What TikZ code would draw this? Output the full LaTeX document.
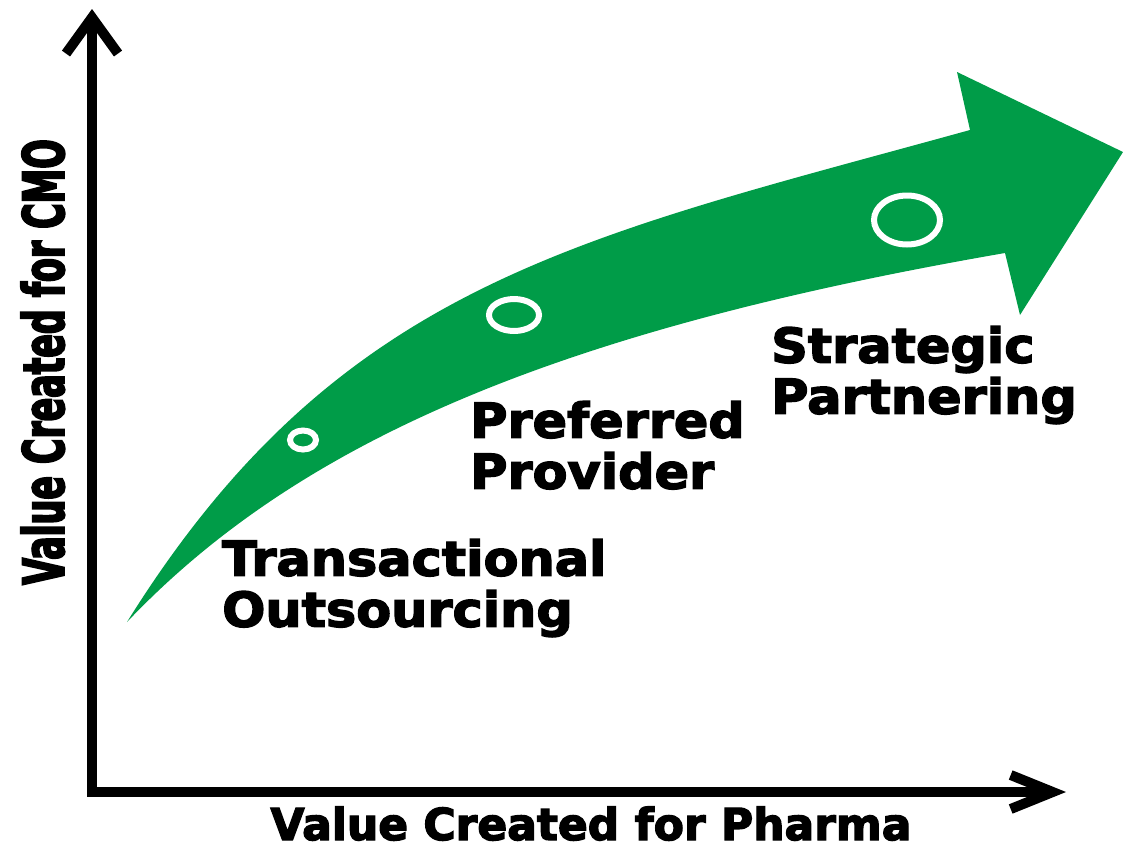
\documentclass[tikz,border=0pt]{standalone}
\usepackage{fontspec}
\usetikzlibrary{arrows.meta}

\newfontfamily\stagefont[FakeStretch=1.06,FakeBold=3]{DejaVu Sans Bold}
\newfontfamily\cmofont[FakeStretch=0.61,FakeBold=3]{DejaVu Sans Bold}
\newfontfamily\pharmafont[FakeBold=3]{DejaVu Sans Bold}
\definecolor{growth}{RGB}{0,156,72}

\tikzset{
  axis/.style={line width=10pt, line join=miter},
  stage/.style={anchor=north west, inner sep=0pt, align=left,
    font=\stagefont\fontsize{48}{51}\selectfont},
  ring/.style={draw=white, line width=6pt},
}

\begin{document}
\begin{tikzpicture}[x=1pt,y=-1pt]
\useasboundingbox (0,0) rectangle (1123,849);

% axes
\coordinate (origin) at (92,792);
\coordinate (ytip) at (92,9);
\coordinate (xtip) at (1066,792);
\draw[axis,{Straight Barb[length=36pt,width=52pt]}-{Straight Barb[length=42pt,width=34pt]}]
  (ytip) -- (origin) -- (xtip);
\node[anchor=base, inner sep=0pt, font=\pharmafont\fontsize{44}{48}\selectfont]
  (xlabel) at (591,840) {Value Created for Pharma};
\node[anchor=base, rotate=90, inner sep=0pt, font=\cmofont\fontsize{57}{60}\selectfont]
  (ylabel) at (64,362) {Value Created for CMO};

% the curved green arrow
\fill[growth] (127,622) .. controls (339,282) and (579,238) .. (970,130)
  -- (957,72) -- (1123,152) -- (1020,315) -- (1005,253)
  .. controls (560,330) and (300,440) .. cycle;

% stage markers
\draw[ring] (303,440) ellipse [x radius=13, y radius=9.5];
\draw[ring] (514,315) ellipse [x radius=25, y radius=16];
\draw[ring] (907,220) ellipse [x radius=33, y radius=24.5];

% stage labels
\node[stage] (transact) at (222,539) {Transactional\\Outsourcing};
\node[stage] (preferred) at (470,401) {Preferred\\Provider};
\node[stage] (strategic) at (771,326) {Strategic\\Partnering};
\end{tikzpicture}
\end{document}
